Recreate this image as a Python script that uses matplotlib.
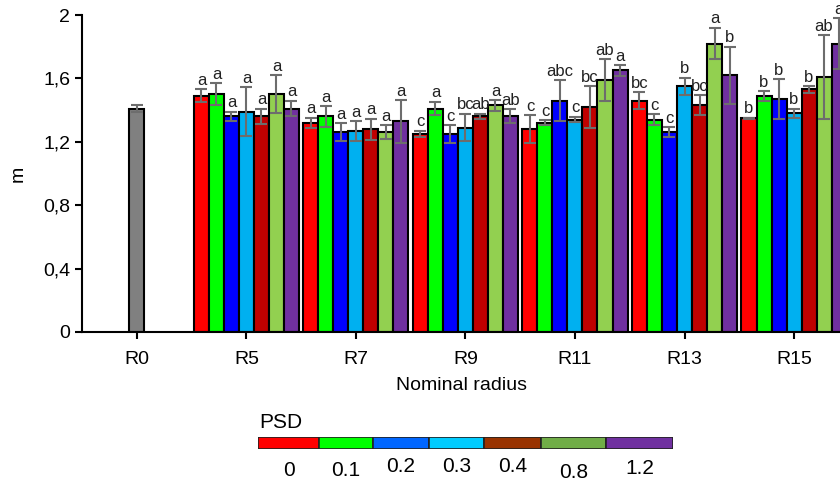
import matplotlib
matplotlib.use('Agg')
import matplotlib.pyplot as plt
import numpy as np

plt.rcParams['font.family'] = ['Liberation Sans', 'DejaVu Sans']

# groups on the x axis
groups = ['R0', 'R5', 'R7', 'R9', 'R11', 'R13', 'R15']
psd_levels = ['0', '0.1', '0.2', '0.3', '0.4', '0.8', '1.2']

# control (R0)
r0_value = 1.41
r0_err = 0.024

# mean values, one row per group R5..R15, one column per PSD level
means = [
    [1.49, 1.50, 1.36, 1.39, 1.36, 1.50, 1.41],   # R5
    [1.32, 1.36, 1.26, 1.27, 1.28, 1.26, 1.33],   # R7
    [1.25, 1.41, 1.25, 1.29, 1.36, 1.43, 1.36],   # R9
    [1.28, 1.32, 1.46, 1.34, 1.42, 1.59, 1.65],   # R11
    [1.46, 1.34, 1.26, 1.55, 1.43, 1.82, 1.62],   # R13
    [1.35, 1.49, 1.47, 1.38, 1.53, 1.61, 1.82],   # R15
]
errors = [
    [0.04, 0.07, 0.03, 0.155, 0.05, 0.12, 0.05],
    [0.033, 0.065, 0.058, 0.062, 0.066, 0.044, 0.135],
    [0.02, 0.043, 0.055, 0.088, 0.018, 0.035, 0.044],
    [0.086, 0.017, 0.13, 0.018, 0.13, 0.13, 0.035],
    [0.054, 0.035, 0.032, 0.054, 0.064, 0.10, 0.18],
    [0.003, 0.03, 0.124, 0.03, 0.02, 0.265, 0.16],
]
letters = [
    ['a', 'a', 'a', 'a', 'a', 'a', 'a'],
    ['a', 'a', 'a', 'a', 'a', 'a', 'a'],
    ['c', 'a', 'c', 'bc', 'ab', 'a', 'ab'],
    ['c', 'c', 'abc', 'c', 'bc', 'ab', 'a'],
    ['bc', 'c', 'c', 'b', 'bc', 'a', 'b'],
    ['b', 'b', 'b', 'b', 'b', 'ab', 'a'],
]

bar_colors = ['#FF0000', '#00FF00', '#0000FF', '#00B0F0', '#C00000', '#92D050', '#7030A0']
legend_colors = ['#FF0000', '#00FF00', '#0066FF', '#00CCFF', '#993300', '#70AD47', '#7030A0']

W, H = 840, 484
fig = plt.figure(figsize=(W / 100, H / 100), dpi=100)
ax = fig.add_axes([82 / W, 1 - 332 / H, 1 - 82 / W, (332 - 15) / H])

bw = 0.137
err_kw = dict(ecolor='#6d6d6d', elinewidth=1.5, capsize=4, capthick=1.5)

ax.bar(0, r0_value, bw, yerr=r0_err, color='#808080', edgecolor='black',
       linewidth=1.5, error_kw=err_kw, zorder=2)

means = np.array(means)
errors = np.array(errors)
gx = np.arange(1, len(groups))
for j in range(len(psd_levels)):
    xs = gx + (j - 3) * bw
    ax.bar(xs, means[:, j], bw, yerr=errors[:, j], color=bar_colors[j],
           edgecolor='black', linewidth=1.5, error_kw=err_kw, zorder=2)
    for k, x in enumerate(xs):
        ax.text(x, means[k, j] + errors[k, j] + 0.008, letters[k][j],
                ha='center', va='bottom', fontsize=12, color='#222222',
                clip_on=False)

ax.set_xlim(-0.502, 6.42)
ax.set_ylim(0, 2)
ax.set_yticks(np.arange(0, 2.01, 0.4))
ax.set_yticklabels(['0', '0,4', '0,8', '1,2', '1,6', '2'])
ax.set_xticks(range(len(groups)))
ax.set_xticklabels(groups)
ax.tick_params(axis='both', labelsize=14, width=1.5, length=5, direction='out')
ax.tick_params(axis='x', pad=9)
for s in ['top', 'right']:
    ax.spines[s].set_visible(False)
for s in ['left', 'bottom']:
    ax.spines[s].set_linewidth(1.5)
ax.set_ylabel('m', fontsize=14, labelpad=12)
ax.set_xlabel('Nominal radius', fontsize=14, labelpad=6)

# PSD legend strip
bounds = [258, 319, 373, 429, 484, 541, 606, 673]
lax = fig.add_axes([bounds[0] / W, 1 - 449 / H, (bounds[-1] - bounds[0]) / W, 12 / H])
lefts = np.array(bounds[:-1])
widths = np.diff(bounds)
lax.barh(0, widths, left=lefts, height=1, color=legend_colors,
         edgecolor='#222222', linewidth=1.2)
lax.set_xlim(bounds[0], bounds[-1])
lax.set_ylim(-0.5, 0.5)
lax.axis('off')
label_dy = [0.0, 0.0, -4, -4, -4, 2, -2]
for c, lab, dy in zip(lefts + widths / 2, psd_levels, label_dy):
    fig.text(c / W, 1 - (470 + dy) / H, lab, ha='center', va='center', fontsize=15)
fig.text(259 / W, 1 - 423 / H, 'PSD', ha='left', va='center', fontsize=15)

fig.savefig('out.png', dpi=100)
